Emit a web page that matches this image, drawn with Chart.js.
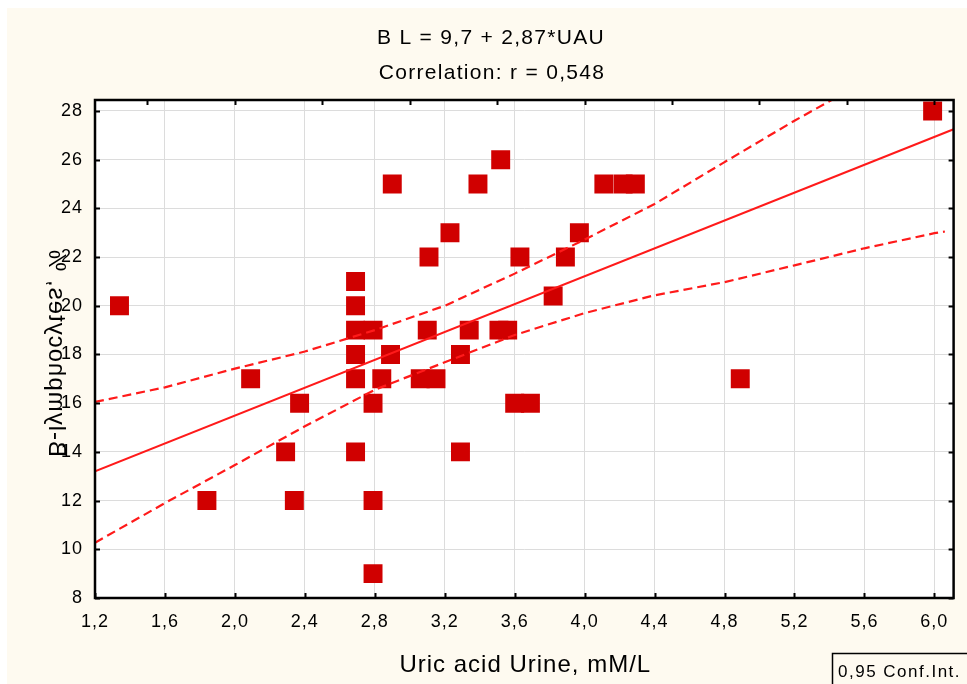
<!DOCTYPE html>
<html>
<head>
<meta charset="utf-8">
<script src="https://cdn.jsdelivr.net/npm/chart.js@4.4.1/dist/chart.umd.min.js"></script>
<style>
    html, body { margin: 0; padding: 0; background: #ffffff; }
    #grafico { display: block; }
</style>
</head>
<body>
<canvas id="grafico" width="967" height="684"></canvas>
<script>
// valores
const uricAcid = [1.34, 1.84, 2.09, 2.29, 2.34, 2.37, 2.69, 2.69, 2.69, 2.79, 2.69, 2.69, 2.69,
    2.79, 2.79, 2.79, 2.84, 2.89, 2.90, 3.06, 3.15, 3.10, 3.11, 3.23, 3.29, 3.29, 3.34,
    3.39, 3.52, 3.51, 3.56, 3.63, 3.60, 3.69, 3.82, 3.89, 3.97, 4.11, 4.22, 4.29, 4.89, 5.99];
const bLymphocytes = [20, 12, 17, 14, 12, 16, 21, 20, 19, 19, 18, 17, 14,
    16, 12, 9, 17, 18, 25, 17, 17, 19, 22, 23, 18, 14, 19,
    25, 26, 19, 19, 22, 16, 16, 20.4, 22, 23, 25, 25, 25, 17, 28];

const fitX = [1.2, 6.11];
const fitY = [13.2, 27.25];

const upperX = [1.2, 1.6, 2.0, 2.4, 2.8, 3.2, 3.6, 4.0, 4.4, 4.8, 5.2, 5.6];
const upperY = [16.05, 16.65, 17.42, 18.12, 19.0, 20.0, 21.32, 22.72, 24.18, 25.9, 27.6, 29.2];
const lowerX = [1.2, 1.6, 2.0, 2.4, 2.8, 3.2, 3.6, 4.0, 4.4, 4.8, 5.2, 5.6, 6.0, 6.06];
const lowerY = [10.27, 11.9, 13.46, 15.05, 16.55, 17.68, 18.8, 19.7, 20.43, 20.97, 21.66, 22.36, 22.98, 23.05];

const xTicks = [1.2, 1.6, 2.0, 2.4, 2.8, 3.2, 3.6, 4.0, 4.4, 4.8, 5.2, 5.6, 6.0];
const xTickLabels = ["1,2", "1,6", "2,0", "2,4", "2,8", "3,2", "3,6", "4,0", "4,4", "4,8", "5,2", "5,6", "6,0"];
const yTicks = [8, 10, 12, 14, 16, 18, 20, 22, 24, 26, 28];
const yTickLabels = ["8", "10", "12", "14", "16", "18", "20", "22", "24", "26", "28"];
const topTicks = [1.5, 2.0, 2.5, 3.0, 3.5, 4.0, 4.5, 5.0, 5.5, 6.0];

const titulo1 = "B L = 9,7 + 2,87*UAU";
const titulo2 = "Correlation: r = 0,548";
const rotuloX = "Uric acid Urine, mM/L";
const rotuloY = "B-lymphocytes, %";
const legenda = "0,95 Conf.Int.";

const creme = "#fefaf0";
const vermelho = "#d00000";
const linhaVermelha = "#ff1a1a";
const fonte = "'Liberation Sans', Arial, sans-serif";

function pares(xs, ys) {
    return xs.map((x, i) => ({x: x, y: ys[i]}));
}

const moldura = {
    id: "moldura",
    beforeDraw(chart) {
        const ctx = chart.ctx;
        const a = chart.chartArea;
        ctx.save();
        ctx.fillStyle = "#ffffff";
        ctx.fillRect(0, 0, chart.width, chart.height);
        ctx.fillStyle = creme;
        ctx.fillRect(7, 8, chart.width - 7, chart.height - 8);
        ctx.fillStyle = "#ffffff";
        ctx.fillRect(a.left, a.top, a.right - a.left, a.bottom - a.top);
        ctx.restore();
        // espaçamento das letras dos eixos, como no original
        ctx.letterSpacing = "1px";
    },
    afterDraw(chart) {
        const ctx = chart.ctx;
        const a = chart.chartArea;
        const sx = chart.scales.x;
        const sy = chart.scales.y;
        ctx.save();

        // caixa
        ctx.strokeStyle = "#000";
        ctx.lineWidth = 2.5;
        ctx.strokeRect(a.left, a.top, a.right - a.left, a.bottom - a.top);

        // marcas internas
        ctx.lineWidth = 2;
        ctx.beginPath();
        xTicks.forEach(v => {
            const px = Math.round(sx.getPixelForValue(v)) + 0.5;
            ctx.moveTo(px, a.bottom);
            ctx.lineTo(px, a.bottom - 5);
        });
        topTicks.forEach(v => {
            const px = Math.round(sx.getPixelForValue(v)) + 0.5;
            ctx.moveTo(px, a.top);
            ctx.lineTo(px, a.top + 5);
        });
        yTicks.forEach(v => {
            const py = Math.round(sy.getPixelForValue(v)) + 0.5;
            ctx.moveTo(a.left, py);
            ctx.lineTo(a.left + 5, py);
            ctx.moveTo(a.right, py);
            ctx.lineTo(a.right - 5, py);
        });
        ctx.stroke();

        // títulos
        ctx.fillStyle = "#000";
        ctx.textAlign = "center";
        ctx.textBaseline = "middle";
        ctx.letterSpacing = "1.3px";
        ctx.font = "21px " + fonte;
        ctx.fillText(titulo1, 491, 38);
        ctx.fillText(titulo2, 492, 73);

        // rótulo do eixo x
        ctx.letterSpacing = "1px";
        ctx.font = "24px " + fonte;
        ctx.fillText(rotuloX, (a.left + a.right) / 2 + 1, 665);

        // rótulo do eixo y (espelhado como no original)
        ctx.save();
        ctx.translate(56, (a.top + a.bottom) / 2 + 4);
        ctx.rotate(-Math.PI / 2);
        ctx.scale(1, -1);
        ctx.fillText(rotuloY, 0, 0);
        ctx.restore();

        // caixa da legenda
        ctx.lineWidth = 1.5;
        ctx.strokeStyle = "#000";
        ctx.strokeRect(832.5, 653.5, 200, 60);
        ctx.font = "17px " + fonte;
        ctx.letterSpacing = "1.5px";
        ctx.textAlign = "left";
        ctx.textBaseline = "alphabetic";
        ctx.fillText(legenda, 838, 677);
        ctx.restore();
    }
};

const fonteEixo = {family: fonte, size: 18};

new Chart(document.getElementById("grafico"), {
    type: "scatter",
    data: {
        datasets: [
            {
                label: "pontos",
                data: pares(uricAcid, bLymphocytes),
                pointStyle: "rect",
                pointRadius: 13.4,
                pointHoverRadius: 13.4,
                backgroundColor: vermelho,
                borderColor: vermelho,
                borderWidth: 0,
                order: 2
            },
            {
                label: "regressao",
                data: pares(fitX, fitY),
                showLine: true,
                pointRadius: 0,
                borderColor: linhaVermelha,
                borderWidth: 2,
                clip: 0,
                order: 1
            },
            {
                label: "ic superior",
                data: pares(upperX, upperY),
                showLine: true,
                pointRadius: 0,
                borderColor: linhaVermelha,
                borderWidth: 2.2,
                borderDash: [9, 5],
                clip: 0,
                order: 1
            },
            {
                label: "ic inferior",
                data: pares(lowerX, lowerY),
                showLine: true,
                pointRadius: 0,
                borderColor: linhaVermelha,
                borderWidth: 2.2,
                borderDash: [9, 5],
                clip: 0,
                order: 1
            }
        ]
    },
    options: {
        responsive: false,
        animation: false,
        devicePixelRatio: 1,
        layout: {padding: {top: 100, right: 9, left: 0, bottom: 0}},
        plugins: {
            legend: {display: false},
            tooltip: {enabled: false},
            title: {display: false}
        },
        scales: {
            x: {
                type: "linear",
                min: 1.2,
                max: 6.11,
                afterBuildTicks: s => { s.ticks = xTicks.map(v => ({value: v})); },
                afterFit: s => { s.height = 86; },
                grid: {color: "#dcdcdc", lineWidth: 1, drawTicks: false},
                border: {display: false},
                ticks: {
                    padding: 13,
                    color: "#000",
                    font: fonteEixo,
                    maxRotation: 0,
                    autoSkip: false,
                    callback: (v, i) => xTickLabels[i]
                }
            },
            y: {
                type: "linear",
                min: 8,
                max: 28.45,
                afterBuildTicks: s => { s.ticks = yTicks.map(v => ({value: v})); },
                afterFit: s => { s.width = 95; },
                grid: {color: "#dcdcdc", lineWidth: 1, drawTicks: false},
                border: {display: false},
                ticks: {
                    padding: 12,
                    color: "#000",
                    font: fonteEixo,
                    autoSkip: false,
                    callback: (v, i) => yTickLabels[i]
                }
            }
        }
    },
    plugins: [moldura]
});
</script>
</body>
</html>
